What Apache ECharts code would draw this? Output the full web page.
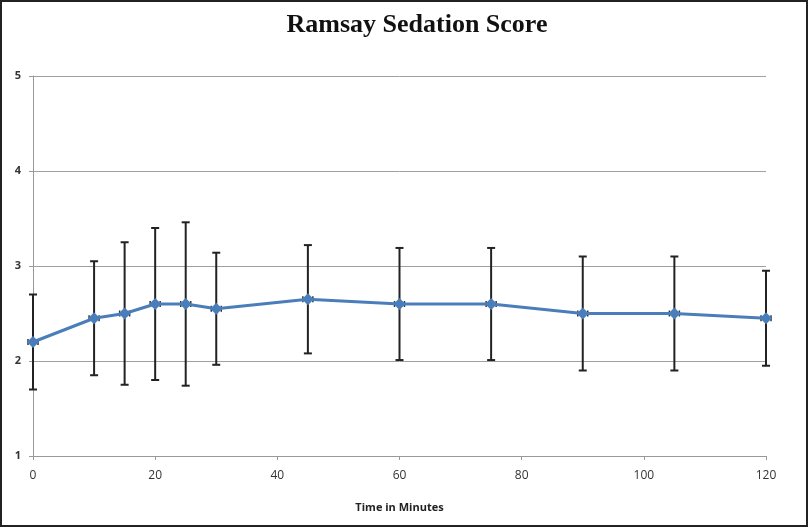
<!DOCTYPE html>
<html><head><meta charset="utf-8">
<script src="https://cdn.jsdelivr.net/npm/echarts@6/dist/echarts.min.js"></script>
<style>html,body{margin:0;padding:0;background:#fff}#c{width:808px;height:527px}</style>
</head><body><div id="c"></div>
<script>
const times = [0, 10, 15, 20, 25, 30, 45, 60, 75, 90, 105, 120];
const means = [2.2, 2.45, 2.5, 2.6, 2.6, 2.55, 2.65, 2.6, 2.6, 2.5, 2.5, 2.45];
const sds   = [0.5, 0.6, 0.75, 0.8, 0.86, 0.59, 0.57, 0.59, 0.59, 0.6, 0.6, 0.5];
const xTicks = [0, 20, 40, 60, 80, 100, 120];
const yTicks = [1, 2, 3, 4, 5];

const lineData = times.map((t, i) => [t, means[i]]);
const errData = times.map((t, i) => [t, means[i] - sds[i], means[i] + sds[i], means[i]]);

const chart = echarts.init(document.getElementById('c'));
chart.setOption({
  animation: false,
  backgroundColor: '#fff',
  title: {
    text: 'Ramsay Sedation Score', left: 412, top: 7, textAlign: 'center',
    textStyle: { fontFamily: 'Liberation Serif', fontWeight: 'bold', fontSize: 26, color: '#111' }
  },
  grid: { left: 33, right: 42, top: 76, bottom: 71 },
  xAxis: {
    type: 'value', min: xTicks[0], max: xTicks[xTicks.length - 1], interval: 20,
    name: 'Time in Minutes', nameLocation: 'middle', nameGap: 46,
    nameTextStyle: { fontFamily: 'Open Sans', fontWeight: 'bold', fontSize: 11, color: '#222' },
    axisLine: { lineStyle: { color: '#999', width: 1 } },
    axisTick: { show: true, length: 4, lineStyle: { color: '#999' } },
    axisLabel: { fontFamily: 'Open Sans', fontSize: 12, color: '#333', margin: 14 },
    splitLine: { show: false }
  },
  yAxis: {
    type: 'value', min: yTicks[0], max: yTicks[yTicks.length - 1], interval: 1,
    axisLine: { show: true, lineStyle: { color: '#999', width: 1 } },
    axisTick: { show: true, length: 4, lineStyle: { color: '#999' } },
    axisLabel: { fontFamily: 'Open Sans', fontSize: 11, fontWeight: 'bold', color: '#333', margin: 12 },
    splitLine: { show: true, lineStyle: { color: '#a0a0a0', width: 1 } }
  },
  series: [
    {
      type: 'custom', z: 3,
      renderItem: function (params, api) {
        const x = api.value(0);
        const lo = api.coord([x, api.value(1)]);
        const hi = api.coord([x, api.value(2)]);
        const mid = api.coord([x, api.value(3)]);
        const w = 4;
        const st = { stroke: '#222', lineWidth: 2 };
        const st2 = { stroke: '#333', lineWidth: 1.5 };
        return {
          type: 'group',
          children: [
            { type: 'line', shape: { x1: lo[0], y1: lo[1], x2: hi[0], y2: hi[1] }, style: st },
            { type: 'line', shape: { x1: lo[0] - w, y1: lo[1], x2: lo[0] + w, y2: lo[1] }, style: st },
            { type: 'line', shape: { x1: hi[0] - w, y1: hi[1], x2: hi[0] + w, y2: hi[1] }, style: st },
            { type: 'line', shape: { x1: mid[0] - 5, y1: mid[1] - 3, x2: mid[0] - 5, y2: mid[1] + 3 }, style: st2 },
            { type: 'line', shape: { x1: mid[0] + 5, y1: mid[1] - 3, x2: mid[0] + 5, y2: mid[1] + 3 }, style: st2 }
          ]
        };
      },
      data: errData
    },
    {
      type: 'line', z: 4, data: lineData,
      symbol: 'diamond', symbolSize: 12,
      lineStyle: { color: '#4a7ebb', width: 3 },
      itemStyle: { color: '#4a7ebb' }
    }
  ],
  graphic: [{
    type: 'rect', shape: { x: 1, y: 1, width: 806, height: 525 },
    style: { fill: 'none', stroke: '#222', lineWidth: 2 }, z: 100
  }]
});
</script></body></html>
